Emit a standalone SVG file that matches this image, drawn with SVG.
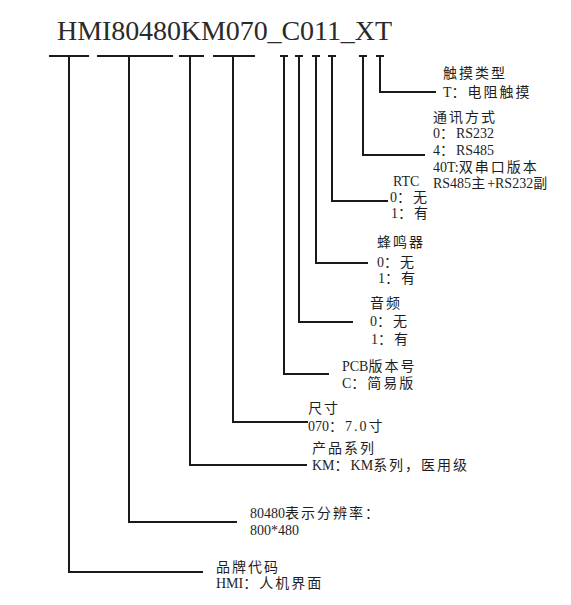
<svg xmlns="http://www.w3.org/2000/svg" width="571" height="605" viewBox="0 0 571 605">
<style>
  text { font-family: "Liberation Serif", "Noto Sans CJK SC", serif; fill: #1e1e1e; }
  .t { font-size: 14px; }
  .c { letter-spacing: 2px; }
  .title { font-size: 28px; fill: #2a2a2a; }
  .ln { fill: none; stroke: #1a1a1a; stroke-width: 2; }
</style>
<rect width="571" height="605" fill="#ffffff"/>
<g id="title">
  <text class="title" x="57" y="40" textLength="335" lengthAdjust="spacing">HMI80480KM070_C011_XT</text>
</g>
<g id="connectors">
  <path class="ln" d="M49 56H89M69 56V572H203"/>
  <path class="ln" d="M97 56H173M129 56V522H237"/>
  <path class="ln" d="M179 56H204M190 56V465H307"/>
  <path class="ln" d="M213 56H255M233 56V422H308"/>
  <path class="ln" d="M280 56H288M284 56V374H329"/>
  <path class="ln" d="M295 56H303M299 56V322H353"/>
  <path class="ln" d="M312 56H320M316 56V263H368"/>
  <path class="ln" d="M328 56H336M332 56V201H388"/>
  <path class="ln" d="M359 56H367M363 56V155H425"/>
  <path class="ln" d="M376 56H384M380 56V92H436"/>
</g>
<g id="touch">
  <text class="t" x="443" y="78"><tspan class="c">触摸类型</tspan></text>
  <text class="t" x="443" y="97">T<tspan class="c">：电阻触摸</tspan></text>
</g>
<g id="comm">
  <text class="t" x="433" y="122"><tspan class="c">通讯方式</tspan></text>
  <text class="t" x="433" y="138">0<tspan class="c">：</tspan>RS232</text>
  <text class="t" x="433" y="155">4<tspan class="c">：</tspan>RS485</text>
  <text class="t" x="433" y="172">40T:<tspan class="c">双串口版本</tspan></text>
  <text class="t" x="433" y="188">RS485<tspan class="c">主</tspan>+RS232<tspan class="c">副</tspan></text>
</g>
<g id="rtc">
  <text class="t" x="393" y="186">RTC</text>
  <text class="t" x="390" y="202">0<tspan class="c">：无</tspan></text>
  <text class="t" x="391" y="218">1<tspan class="c">：有</tspan></text>
</g>
<g id="buzzer">
  <text class="t" x="377" y="247"><tspan class="c">蜂鸣器</tspan></text>
  <text class="t" x="377" y="267">0<tspan class="c">：无</tspan></text>
  <text class="t" x="378" y="283">1<tspan class="c">：有</tspan></text>
</g>
<g id="audio">
  <text class="t" x="370" y="308"><tspan class="c">音频</tspan></text>
  <text class="t" x="370" y="326">0<tspan class="c">：无</tspan></text>
  <text class="t" x="371" y="344">1<tspan class="c">：有</tspan></text>
</g>
<g id="pcb">
  <text class="t" x="342" y="371">PCB<tspan class="c">版本号</tspan></text>
  <text class="t" x="342" y="388">C<tspan class="c">：简易版</tspan></text>
</g>
<g id="size">
  <text class="t" x="308" y="413"><tspan class="c">尺寸</tspan></text>
  <text class="t" x="308" y="431">070<tspan class="c">：7.0寸</tspan></text>
</g>
<g id="series">
  <text class="t" x="312" y="453"><tspan class="c">产品系列</tspan></text>
  <text class="t" x="312" y="470">KM<tspan class="c">：</tspan>KM<tspan class="c">系列，医用级</tspan></text>
</g>
<g id="resolution">
  <text class="t" x="250" y="518">80480<tspan class="c">表示分辨率：</tspan></text>
  <text class="t" x="250" y="535">800*480</text>
</g>
<g id="brand">
  <text class="t" x="216" y="572"><tspan class="c">品牌代码</tspan></text>
  <text class="t" x="216" y="588">HMI<tspan class="c">：人机界面</tspan></text>
</g>
</svg>
